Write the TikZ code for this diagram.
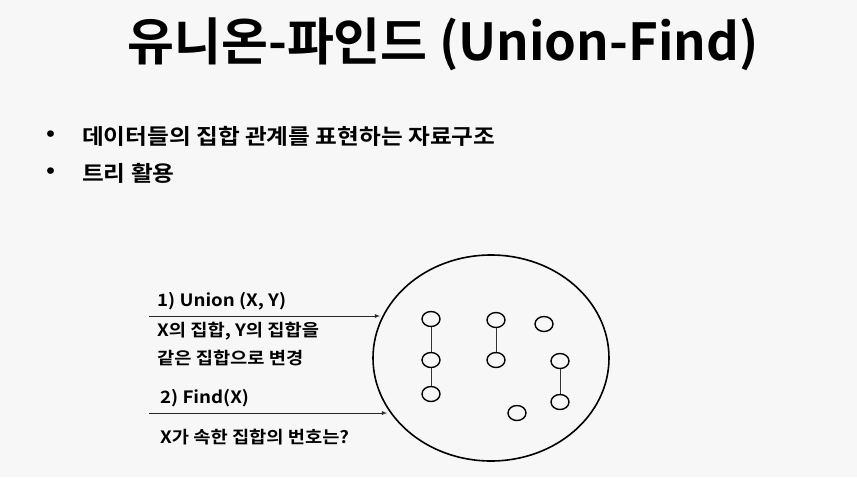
\documentclass[tikz,border=0pt]{standalone}
\usepackage{fontspec}
\usetikzlibrary{shapes.geometric}
\setmainfont{Noto Sans CJK KR}[BoldFont={Noto Sans CJK KR Bold}]
\newfontfamily\widekr{Noto Sans CJK KR Bold}[FakeStretch=1.1]
\begin{document}
\begin{tikzpicture}[x=1pt,y=-1pt,
  dot/.style={draw, line width=1.4pt, ellipse, minimum width=18pt, minimum height=15pt, inner sep=0pt},
  link/.style={draw, line width=0.8pt, gray!40!black},
  lbl/.style={anchor=west, inner sep=0pt, font=\widekr\fontsize{17}{20}\selectfont},
  arr/.style={-latex, line width=0.8pt, gray!30!black},
  bul/.style={anchor=west, inner sep=0pt, font=\widekr\fontsize{21.5}{24}\selectfont}]
\fill[black!3] (0,0) rectangle (857,477);
\useasboundingbox (0,0) rectangle (857,477);
\node[inner sep=0pt, font=\bfseries\fontsize{51}{55}\selectfont] (title) at (443,44) {유니온-파인드 (Union-Find)};
\node[bul] (b1d) at (46,136) {•};
\node[bul] (b1) at (82,136) {데이터들의 집합 관계를 표현하는 자료구조};
\node[bul] (b2d) at (46,173) {•};
\node[bul] (b2) at (82,173) {트리 활용};
\node[draw, line width=1.6pt, ellipse, minimum width=236pt, minimum height=206pt, inner sep=0pt] (big) at (491,358) {};
\node[dot] (a1) at (431,319) {};
\node[dot] (a2) at (431,360) {};
\node[dot] (a3) at (431,394) {};
\node[dot] (b1n) at (496,320) {};
\node[dot] (b2n) at (496,360) {};
\node[dot] (c) at (544,324) {};
\node[dot] (d1) at (560,361) {};
\node[dot] (d2) at (560,402) {};
\node[dot] (e) at (517,413) {};
\draw[link] (a1) -- (a2);
\draw[link] (a2) -- (a3);
\draw[link] (b1n) -- (b2n);
\draw[link] (d1) -- (d2);
\coordinate (s1) at (149,316);
\coordinate (t1) at (380,316);
\coordinate (s2) at (149,413);
\coordinate (t2) at (387,413);
\draw[arr] (s1) -- (t1);
\draw[arr] (s2) -- (t2);
\node[lbl] (u) at (157,301) {1) Union (X, Y)};
\node[lbl] (u1) at (157,331) {X의 집합, Y의 집합을};
\node[lbl] (u2) at (157,358) {같은 집합으로 변경};
\node[lbl] (f) at (160,398) {2) Find(X)};
\node[lbl] (f1) at (160,437) {X가 속한 집합의 번호는?};
\end{tikzpicture}
\end{document}
